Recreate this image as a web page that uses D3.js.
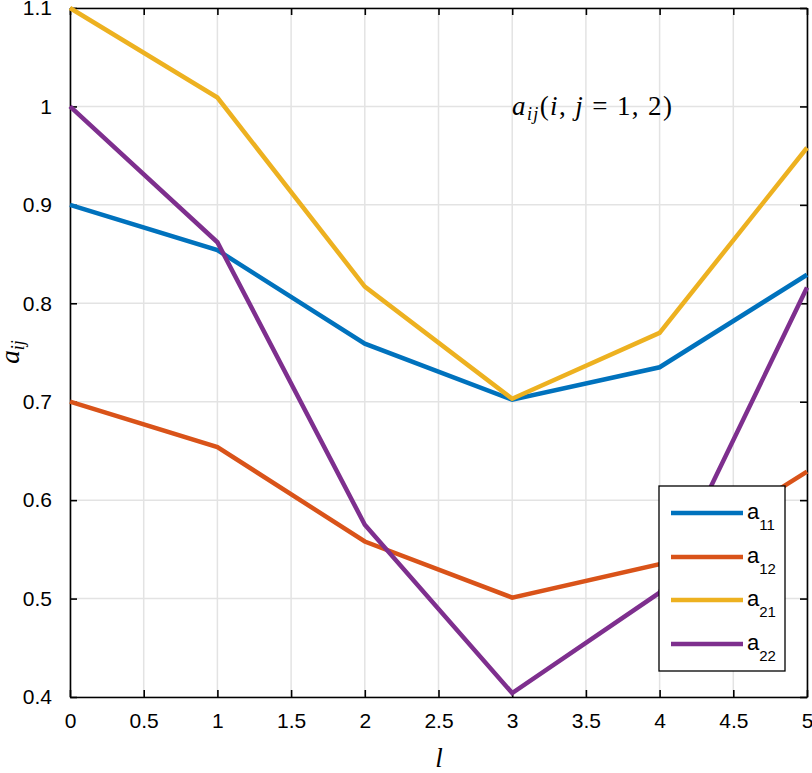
<!DOCTYPE html>
<html><head><meta charset="utf-8">
<script src="https://cdn.jsdelivr.net/npm/d3@7"></script>
<style>body{margin:0;background:#fff}svg{display:block}</style>
</head><body>
<script>
const xValues = [0, 1, 2, 3, 4, 5];
const a11 = [0.900, 0.854, 0.759, 0.702, 0.735, 0.829];
const a12 = [0.700, 0.654, 0.558, 0.501, 0.535, 0.629];
const a21 = [1.100, 1.009, 0.817, 0.703, 0.770, 0.958];
const a22 = [1.000, 0.862, 0.575, 0.404, 0.506, 0.816];
const seriesNames = ["11", "12", "21", "22"];
const seriesColors = ["#0072BD", "#D95319", "#EDB120", "#7E2F8E"];
const xTicks = [0, 0.5, 1, 1.5, 2, 2.5, 3, 3.5, 4, 4.5, 5];
const yTicks = [0.4, 0.5, 0.6, 0.7, 0.8, 0.9, 1.0, 1.1];
const series = [a11, a12, a21, a22];

const W = 812, H = 773;
const L = 70, R = 807, T = 8, B = 697;
const svg = d3.select("body").append("svg").attr("width", W).attr("height", H);
const x = d3.scaleLinear().domain([0, 5]).range([L, R]);
const y = d3.scaleLinear().domain([0.4, 1.1]).range([B, T]);

// grid
svg.append("g").selectAll("line").data(xTicks).join("line")
  .attr("x1", d => x(d)).attr("x2", d => x(d)).attr("y1", T).attr("y2", B)
  .attr("stroke", "#e3e3e3").attr("stroke-width", 1.5);
svg.append("g").selectAll("line").data(yTicks).join("line")
  .attr("y1", d => y(d)).attr("y2", d => y(d)).attr("x1", L).attr("x2", R)
  .attr("stroke", "#e3e3e3").attr("stroke-width", 1.5);

const fmt = d => (d === 1 ? "1" : d3.format("")(d));
const font = "'Liberation Sans', Arial, sans-serif";

const axB = svg.append("g").attr("transform", `translate(0,${B})`)
  .call(d3.axisBottom(x).tickValues(xTicks).tickFormat(fmt).tickSizeInner(-7).tickSizeOuter(0).tickPadding(24));
const axT = svg.append("g").attr("transform", `translate(0,${T})`)
  .call(d3.axisTop(x).tickValues(xTicks).tickFormat("").tickSizeInner(-7).tickSizeOuter(0));
const axL = svg.append("g").attr("transform", `translate(${L},0)`)
  .call(d3.axisLeft(y).tickValues(yTicks).tickFormat(fmt).tickSizeInner(-7).tickSizeOuter(0).tickPadding(18));
const axR = svg.append("g").attr("transform", `translate(${R},0)`)
  .call(d3.axisRight(y).tickValues(yTicks).tickFormat("").tickSizeInner(-7).tickSizeOuter(0));
[axB, axT, axL, axR].forEach(g => {
  g.select(".domain").attr("stroke", "#000").attr("stroke-width", 1.6);
  g.selectAll(".tick line").attr("stroke", "#000").attr("stroke-width", 1.6);
  g.selectAll("text").attr("font-family", font).attr("font-size", 21).attr("fill", "#000");
});
axB.selectAll("text").attr("dy", "0.35em");

// lines
const line = d3.line().x((d, i) => x(xValues[i])).y(d => y(d));
svg.append("g").selectAll("path").data(series).join("path")
  .attr("d", d => line(d)).attr("fill", "none")
  .attr("stroke", (d, i) => seriesColors[i]).attr("stroke-width", 4.5)
  .attr("stroke-linejoin", "miter");

// annotation
const serif = "'Liberation Serif', 'DejaVu Serif', serif";
const ann = svg.append("text").attr("x", 512).attr("y", 115).attr("font-family", serif).attr("font-size", 27)
  .attr("fill", "#000").attr("textLength", 160).attr("lengthAdjust", "spacing");
ann.append("tspan").attr("font-style", "italic").text("a");
ann.append("tspan").attr("font-style", "italic").attr("font-size", 18).attr("dy", 5).text("ij");
ann.append("tspan").attr("dy", -5).text("(");
ann.append("tspan").attr("font-style", "italic").text("i");
ann.append("tspan").text(", ");
ann.append("tspan").attr("font-style", "italic").text("j");
ann.append("tspan").text(" = 1, 2)");

// axis labels
svg.append("text").attr("x", 439).attr("y", 767).attr("font-family", serif).attr("font-style", "italic")
  .attr("font-size", 27).attr("text-anchor", "middle").text("l");
const yl = svg.append("text").attr("transform", "translate(19,352) rotate(-90)")
  .attr("font-family", serif).attr("font-size", 27).attr("text-anchor", "middle").attr("font-style", "italic");
yl.append("tspan").text("a");
yl.append("tspan").attr("font-size", 18).attr("dy", 5).text("ij");

// legend
const lg = svg.append("g");
lg.append("rect").attr("x", 659).attr("y", 486).attr("width", 126).attr("height", 185)
  .attr("fill", "#fff").attr("stroke", "#000").attr("stroke-width", 1.3);
const rows = [513, 557, 600, 644];
seriesNames.forEach((n, i) => {
  lg.append("line").attr("x1", 671).attr("x2", 743).attr("y1", rows[i]).attr("y2", rows[i])
    .attr("stroke", seriesColors[i]).attr("stroke-width", 4.5);
  const t = lg.append("text").attr("x", 747).attr("y", rows[i] + 6).attr("font-family", font).attr("font-size", 22);
  t.append("tspan").text("a");
  t.append("tspan").attr("font-size", 15).attr("dy", 11).text(n);
});
</script>
</body></html>
